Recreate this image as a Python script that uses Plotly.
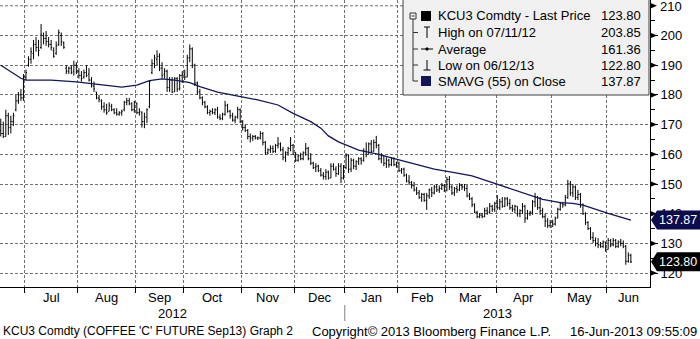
import pandas as pd
import plotly.graph_objects as go

# ---------------- data ----------------
holidays = ["2012-07-04", "2012-09-03", "2012-11-22", "2012-12-25", "2013-01-01",
            "2013-01-21", "2013-02-18", "2013-03-29", "2013-05-27"]
dates = [d for d in pd.bdate_range("2012-06-18", "2013-06-14")
         if d.strftime("%Y-%m-%d") not in holidays]

opens = [168, 167, 166, 173, 169, 171, 175, 178, 180, 179,
         186, 190, 192, 194, 197, 196, 196, 200, 199, 198,
         197, 195, 194, 197, 200, 197.5, 189, 188, 189, 188,
         190, 188, 186.5, 186, 187.5, 187, 185, 183, 181, 179,
         178, 176, 175, 174.5, 176, 175, 174, 173.5, 174, 175,
         177.5, 178, 177, 175, 177, 174, 174, 171, 172.5, 176,
         187.5, 190.5, 192, 193, 189, 187, 188, 182.5, 185, 181,
         185.5, 182, 186.5, 187, 186, 192.5, 195.5, 190, 184, 181,
         179, 177.5, 176, 174, 174.5, 174, 175, 172.5, 172, 173.5,
         176.5, 174.5, 173, 171.5, 172.5, 175, 171, 169, 168, 166,
         165.5, 166, 165.5, 165.5, 167, 164, 160.5, 161.5, 162, 161,
         163, 163.5, 161.5, 159, 160.5, 162, 163, 160, 158, 159.5,
         158.5, 160.5, 162, 158.5, 157, 155.5, 156, 154.5, 153, 152.5,
         154, 152, 156, 155, 153.5, 156, 152, 155.5, 159.5, 155,
         158, 156, 157.5, 158.5, 158, 161, 160, 163.5, 161, 164,
         163, 158.5, 159.5, 157, 158, 156.5, 158.5, 156.5, 157, 154.5,
         155, 153, 151, 150.5, 149.5, 148, 147, 145.5, 146.5, 144.5,
         146, 148, 147, 149, 148, 148.5, 149.5, 148, 151.5, 149,
         147, 148.5, 148, 149.5, 149, 148.5, 146, 145, 143, 140.5,
         139, 139.5, 139, 141, 140.5, 142.5, 141.5, 143.5, 142, 144,
         142.5, 145, 143.5, 142, 141.5, 142.5, 140, 141, 142.5, 138.5,
         140, 140.5, 144, 145.5, 142, 141, 139, 137.5, 136, 137,
         136.5, 138.5, 141.5, 143.5, 143, 145.5, 150, 147, 149, 145.5,
         146.5, 143, 140, 137, 135, 132, 131, 130, 129.5, 129,
         130.5, 128, 131, 129.5, 131, 129, 130.5, 130, 129, 124, 126]

highs = [172, 171, 175, 174, 173, 174, 180, 181, 182, 187,
         188.5, 193, 196, 198.5, 199.5, 198.5, 203.85, 201, 201.5, 199.5,
         198.5, 196, 198, 202, 201, 198, 190, 189.5, 190, 191.5,
         191, 189, 188, 188.5, 190, 189, 186, 184.5, 181, 180,
         178.5, 177.5, 177, 177.5, 177, 175.5, 175.5, 174.5, 175, 178,
         179, 179, 177.5, 178, 177.5, 175.5, 174.5, 174, 175.5, 185,
         192, 193.5, 195, 194, 191, 189, 188.5, 186, 186, 186,
         186, 187, 188, 188.5, 193.5, 197, 196, 190.5, 184.5, 182,
         179.5, 178, 176.5, 175, 175.5, 175.5, 176, 173.5, 174, 178,
         177, 175, 174, 173, 176, 175.5, 171.5, 170, 168.5, 167,
         166.5, 166.5, 166, 167.8, 167.5, 164.5, 162, 163, 163, 163.5,
         165.8, 164, 162.5, 161, 162.5, 165.8, 163.5, 160.8, 160, 160.5,
         161, 163.8, 162.5, 160.4, 157.5, 157, 156.5, 155.4, 154, 155,
         154.5, 157, 157, 156, 157, 157, 156.4, 160.4, 160, 158.8,
         158.5, 158, 159, 159, 162, 164, 164, 164.8, 165, 166.2,
         163.5, 160.4, 159.5, 159, 158.5, 159, 159, 157.5, 157.5, 155.4,
         155.5, 153.5, 153, 151, 150.7, 149, 148, 147, 147, 147,
         148.5, 149, 149.7, 150, 149.5, 150.3, 150, 152.4, 152.7, 149.6,
         149, 149.5, 150.3, 150, 150, 149.7, 147, 145.6, 143.5, 141,
         140.2, 140.2, 142, 142.2, 143.6, 143, 144, 146.3, 145, 145.6,
         145.6, 145.6, 145, 143, 143, 142.5, 141.5, 143.6, 143, 141.3,
         141, 144.6, 147, 146, 145.6, 142, 140, 138.5, 137.9, 138,
         139, 142, 144, 144, 146.3, 151.4, 151, 150, 149.5, 148,
         147, 143.5, 140.5, 137.5, 135.5, 133.8, 132, 131.8, 130.5, 131,
         130.5, 131.8, 131.5, 131.8, 131.5, 131, 131.5, 131, 129.5, 127, 126.5]

lows = [166, 165.5, 166, 166.5, 167, 169.5, 174.5, 177, 178, 178,
        185, 189.5, 190.5, 192, 194.5, 193, 195.5, 197, 196.5, 196,
        195, 192.5, 193.5, 196.5, 196.5, 195.5, 187, 187, 187, 186.5,
        187, 185.5, 184.5, 185.5, 186, 184.5, 182.5, 181, 178.5, 177.5,
        175, 174, 173.3, 174.5, 174.5, 173.5, 173, 173, 173, 174.5,
        176.5, 176.5, 174.5, 174, 173.5, 173, 169, 168.8, 170.5, 175.5,
        187, 189, 190, 188, 185.5, 185.5, 181, 181, 180.6, 181,
        181, 181.5, 184, 185, 186, 191, 189, 183, 180, 178.5,
        176.5, 175.5, 173.5, 173, 173.5, 173.2, 172, 171.5, 171.5, 173,
        174, 172, 171, 170.5, 172, 170.5, 168, 167.5, 165, 164,
        164.5, 165, 164.8, 165, 163, 159.8, 160, 160.5, 160.4, 160.5,
        162, 161, 158, 157.4, 159.5, 161, 159.8, 157.4, 157.5, 158,
        158, 159.5, 158, 156.4, 155, 154, 154, 152.5, 151.5, 151.4,
        151.5, 152, 154.5, 152.4, 153, 150.3, 151.5, 155, 153.7, 154,
        155, 154.7, 156.4, 156.5, 157.5, 159, 160, 160.4, 161, 162,
        158, 157, 156, 155.4, 155.5, 156, 156, 155.5, 154, 153.5,
        152.4, 150.5, 149.7, 148.5, 147.5, 146.3, 145, 144, 144, 141.3,
        145, 145.6, 146.5, 147.3, 147, 148, 147.3, 147.5, 148, 146.3,
        146, 147, 147.6, 148, 147.6, 145.5, 144.6, 142.2, 140.2, 138.5,
        138.5, 138.5, 138.8, 139.6, 140, 140.6, 140.6, 141.3, 141.2, 142,
        142.2, 142.5, 141.3, 140.6, 140.2, 139, 138.8, 140, 136.9, 138,
        139.2, 139.6, 142.2, 141.3, 139.6, 138.5, 135.5, 135.2, 135.2, 135.5,
        136, 138.5, 141, 142, 142.5, 145, 146, 145.6, 144.6, 144.6,
        142, 139.6, 136.2, 134.5, 131.2, 130.1, 129, 128.4, 128.5, 128.4,
        127.2, 128, 128.7, 129, 128.4, 128.5, 129, 128.4, 122.8, 123.5, 123.4]

closes = [167, 166, 173, 169, 171, 173, 178, 180, 179, 186,
          187.5, 192, 194.5, 197, 196, 195, 200.5, 199, 198, 197,
          196, 193, 196.5, 201, 198, 196, 188, 189, 187.5, 190,
          188, 186.5, 185.5, 187.5, 186.5, 185, 183, 182, 179, 178.5,
          176, 175, 174, 176.5, 175, 174, 173.5, 174, 174.5, 177.5,
          178, 177, 175, 177.5, 174, 174.5, 171, 172.5, 175, 184.5,
          190.5, 192.5, 193, 189, 186.5, 188, 182.5, 185, 181, 185.5,
          182, 186.5, 187, 186, 192.5, 195.5, 190, 184, 181, 179,
          177.5, 176, 174, 174.5, 174, 175, 172.5, 172, 173.5, 176.5,
          174.5, 173, 171.5, 172.5, 175, 171, 169, 168, 166, 165.5,
          166, 165.5, 165.5, 167, 164, 160.5, 161.5, 162, 161, 163,
          163.5, 161.5, 159, 160.5, 162, 163, 160, 158, 159.5, 158.5,
          160.5, 162, 158.5, 157, 155.5, 156, 154.5, 153, 152.5, 154,
          152, 156, 155, 153.5, 156, 152, 155.5, 159.5, 155, 158,
          156, 157.5, 158.5, 158, 161, 160, 163.5, 161, 164, 163,
          158.5, 159.5, 157, 158, 156.5, 158.5, 156.5, 157, 154.5, 155,
          153, 151, 150.5, 149.5, 148, 147, 145.5, 146.5, 144.5, 146,
          148, 147, 149, 148, 148.5, 149.5, 148, 151.5, 149, 147,
          148.5, 148, 149.5, 149, 148.5, 146, 145, 143, 140.5, 139,
          139.5, 139, 141, 140.5, 142.5, 141.5, 143.5, 142, 144, 142.5,
          145, 143.5, 142, 141.5, 142.5, 140, 141, 142.5, 138.5, 140,
          140.5, 144, 145.5, 142, 141, 139, 137.5, 136, 137, 136.5,
          138.5, 141.5, 143.5, 143, 145.5, 150, 147, 149, 145.5, 146.5,
          143, 140, 137, 135, 132, 131, 130, 129.5, 129, 130.5,
          128, 131, 129.5, 131, 129, 130.5, 130, 129, 124, 126, 123.8]

# 55-day simple moving average at selected bars
sma_idx = [0, 4, 8, 10, 20, 30, 37, 43, 48, 54, 59, 64, 69, 75, 79, 86, 94, 102, 110, 116,
           123, 127, 130, 134, 142, 150, 158, 166, 172, 180, 187, 196, 204, 211, 215, 222,
           227, 231, 241, 250]
sma_vals = [190, 187.8, 185.6, 185, 185, 184.4, 183.6, 183, 182.6, 183.3, 184.8, 185.4, 185,
            184.1, 182.8, 180.9, 179.6, 178.3, 176.6, 173.8, 171, 168.8, 166.2, 164.2, 161.4,
            160, 158.1, 156.4, 155, 153.8, 152.7, 150.2, 148, 146, 144.8, 143.7, 143.5, 142.9,
            140.1, 137.87]

month_labels = ["Jul", "Aug", "Sep", "Oct", "Nov", "Dec", "Jan", "Feb", "Mar", "Apr", "May", "Jun"]
year_labels = ["2012", "2013"]
y_ticks = [120, 130, 140, 150, 160, 170, 180, 190, 200, 210]

legend_labels = ["KCU3 Comdty - Last Price", "High on 07/11/12", "Average",
                 "Low on 06/12/13", "SMAVG (55) on Close"]
legend_values = ["123.80", "203.85", "161.36", "122.80", "137.87"]

footer_left = "KCU3 Comdty (COFFEE 'C' FUTURE Sep13) Graph 2"
footer_mid = "Copyright\u00a9 2013 Bloomberg Finance L.P."
footer_right = "16-Jun-2013 09:55:09"

# ---------------- layout geometry ----------------
W_FIG, H_FIG = 700, 339
ML, MR, MT, MB = 0, 50, 0, 52
PW, PH = W_FIG - ML - MR, H_FIG - MT - MB
XMIN, XMAX = -0.3, 257.6
YMIN, YMAX = 115.32, 211.95
FONT = "Liberation Sans"
NAVY = "#14145a"

n = min(len(dates), len(opens), len(highs), len(lows), len(closes))
idx = list(range(n))


def P(x):
    return x / PW


def Q(y):
    return 1 - y / PH


def ypix(v):
    return PH * (YMAX - v) / (YMAX - YMIN)


# month boundaries
bounds = [k - 0.5 for k in range(1, n) if dates[k].month != dates[k - 1].month]
year_b = [k - 0.5 for k in range(1, n) if dates[k].year != dates[k - 1].year][0]

fig = go.Figure()
fig.add_trace(go.Ohlc(
    x=idx, open=opens[:n], high=highs[:n], low=lows[:n], close=closes[:n],
    increasing=dict(line=dict(color="black", width=1)),
    decreasing=dict(line=dict(color="black", width=1)),
    tickwidth=0.4, hoverinfo="skip", showlegend=False))
fig.add_trace(go.Scatter(
    x=sma_idx, y=sma_vals, mode="lines", line=dict(color=NAVY, width=1.3),
    hoverinfo="skip", showlegend=False))

shapes = []
ann = []


def line(x0, y0, x1, y1, color="black", width=1):
    shapes.append(dict(type="line", xref="paper", yref="paper", x0=P(x0), y0=Q(y0),
                       x1=P(x1), y1=Q(y1), line=dict(color=color, width=width), layer="above"))


def rect(x0, y0, x1, y1, fill, lc=None, lw=0):
    shapes.append(dict(type="rect", xref="paper", yref="paper", x0=P(x0), y0=Q(y1),
                       x1=P(x1), y1=Q(y0), fillcolor=fill,
                       line=dict(color=lc or fill, width=lw), layer="above"))


def poly(pts, fill):
    path = "M " + " L ".join(f"{P(x):.5f},{Q(y):.5f}" for x, y in pts) + " Z"
    shapes.append(dict(type="path", xref="paper", yref="paper", path=path,
                       fillcolor=fill, line=dict(color=fill, width=0), layer="above"))


def text(x, y, s, anchor="left", size=13, color="black"):
    ann.append(dict(xref="paper", yref="paper", x=P(x), y=Q(y), text=s, showarrow=False,
                    xanchor=anchor, yanchor="middle", borderpad=0,
                    font=dict(family=FONT, size=size, color=color)))


# month and year labels
ends = bounds + [XMAX]
for k, lab in enumerate(month_labels):
    cx = (ends[k] + ends[k + 1]) / 2 if k + 1 < len(ends) else ends[k]
    ann.append(dict(xref="x", yref="paper", x=cx, y=Q(297), text=lab, showarrow=False,
                    xanchor="center", yanchor="middle",
                    font=dict(family=FONT, size=13, color="black")))
ann.append(dict(xref="x", yref="paper", x=(XMIN + year_b) / 2, y=Q(313), text=year_labels[0],
                showarrow=False, xanchor="center", yanchor="middle",
                font=dict(family=FONT, size=13, color="black")))
ann.append(dict(xref="x", yref="paper", x=(year_b + XMAX) / 2, y=Q(313), text=year_labels[1],
                showarrow=False, xanchor="center", yanchor="middle",
                font=dict(family=FONT, size=13, color="black")))
shapes.append(dict(type="line", xref="x", yref="paper", x0=year_b, x1=year_b,
                   y0=Q(305), y1=Q(321), line=dict(color="#808080", width=1)))

# footer
text(2, 331, footer_left, size=12)
text(311, 331, footer_mid, size=13)
text(698, 331, footer_right, anchor="right", size=13)

# right axis arrow ticks and the top label that plotly drops at the edge
for v in y_ticks:
    yp = ypix(v)
    poly([(650, yp - 3), (657, yp), (650, yp + 3)], "black")
text(659, ypix(y_ticks[-1]) + 1, str(y_ticks[-1]), size=13)

# legend box
rect(403, -3, 649, 95, "#f0f0f0", "#404040", 1)
rows = [16, 32.5, 49, 65, 81]
for r, lab, val in zip(rows, legend_labels, legend_values):
    text(437, r, lab, size=13)
    text(642, r, val, anchor="right", size=13)
# tree
line(413, 19, 413, 81, "#303030", 1)
for r in rows[1:]:
    line(413, r, 418, r, "#303030", 1)
rect(410, 13, 416, 19, "#f0f0f0", "#303030", 1)
line(411.5, 16, 414.5, 16, "#303030", 1)
rect(421, 11, 431, 21, "black")
# high icon
line(427, 27, 427, 38)
line(424, 27, 430, 27)
# average icon
line(421, 49, 433, 49)
poly([(427, 47), (429, 49), (427, 51), (425, 49)], "black")
# low icon
line(427, 60, 427, 70)
line(423.5, 70, 430.5, 70)
rect(421, 76, 431, 86, NAVY)

# price callouts
for v, fill in [(sma_vals[-1], "#0b0b4d"), (closes[n - 1], "black")]:
    yp = ypix(v)
    poly([(651, yp), (657, yp - 9.5), (700, yp - 9.5), (700, yp + 9.5), (657, yp + 9.5)], fill)
    text(658, yp, f"{v:.2f}", size=12.5, color="white")

fig.update_layout(
    width=W_FIG, height=H_FIG,
    margin=dict(l=ML, r=MR, t=MT, b=MB),
    paper_bgcolor="white", plot_bgcolor="white",
    showlegend=False,
    shapes=shapes, annotations=ann,
    font=dict(family=FONT, size=13, color="black"),
    xaxis=dict(range=[XMIN, XMAX], rangeslider=dict(visible=False),
               tickvals=bounds, ticktext=[""] * len(bounds),
               ticks="outside", ticklen=5, tickcolor="black",
               showgrid=True, gridcolor="#707070", griddash="3px,2px", gridwidth=1,
               showline=True, linecolor="black", linewidth=1, zeroline=False,
               fixedrange=True),
    yaxis=dict(range=[YMIN, YMAX], side="right", tickvals=y_ticks[:-1],
               ticks="outside", ticklen=7, tickcolor="black",
               minor=dict(dtick=5, tick0=0, ticks="outside", ticklen=4, tickcolor="black",
                          showgrid=False),
               tickfont=dict(family=FONT, size=13, color="black"),
               showgrid=True, gridcolor="#707070", griddash="3px,2px", gridwidth=1,
               showline=True, linecolor="black", linewidth=1, zeroline=False,
               fixedrange=True),
)
# grid line at the top tick (label drawn separately)
shapes.append(dict(type="line", xref="paper", yref="y", x0=0, x1=1, y0=y_ticks[-1],
                   y1=y_ticks[-1], line=dict(color="#707070", width=1, dash="3px,2px"),
                   layer="below"))
fig.update_layout(shapes=shapes)

fig.write_html("out.html")
